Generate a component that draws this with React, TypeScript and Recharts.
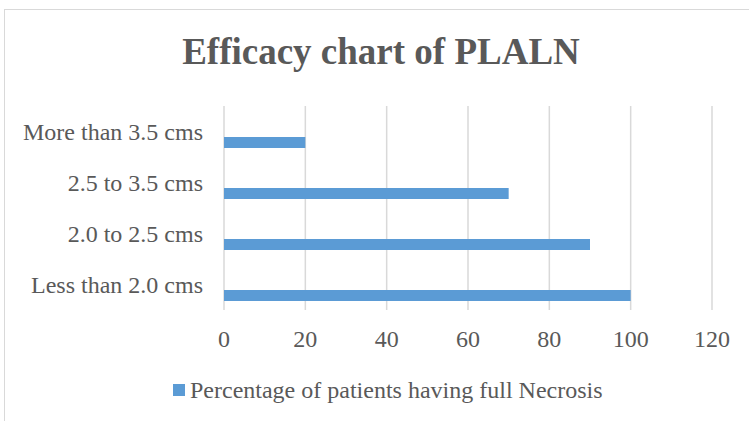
import { BarChart, Bar, XAxis, YAxis, CartesianGrid } from "recharts";

const CATEGORIES = ["More than 3.5 cms", "2.5 to 3.5 cms", "2.0 to 2.5 cms", "Less than 2.0 cms"];
const NECROSIS = [20, 70, 90, 100];
const X_TICKS = [0, 20, 40, 60, 80, 100, 120];
const SERIES_NAME = "Percentage of patients having full Necrosis";

const TEXT = "#595959";
const FONT = "'Liberation Serif', 'Times New Roman', serif";

const data = CATEGORIES.map((c, i) => ({ category: c, value: NECROSIS[i], blank: null }));

export default function App() {
  return (
    <div style={{ position: "absolute", left: 0, top: 0, width: 749, height: 421, overflow: "hidden", background: "#fff" }}>
      <div style={{ position: "absolute", left: 4, top: 9, width: 900, height: 600, border: "1.5px solid #D9D9D9" }} />
      <div style={{
        position: "absolute", left: 381, top: 33, transform: "translateX(-50%)", whiteSpace: "nowrap",
        fontFamily: FONT, fontWeight: "bold", fontSize: 37, lineHeight: "37px", color: TEXT,
      }}>
        Efficacy chart of PLALN
      </div>
      <BarChart
        width={749}
        height={421}
        data={data}
        layout="vertical"
        margin={{ top: 106, right: 37, left: 0, bottom: 81 }}
        barSize={11}
        barGap={10}
        style={{ position: "absolute", left: 0, top: 0 }}
      >
        <CartesianGrid horizontal={false} stroke="#D9D9D9" strokeWidth={1.5} />
        <XAxis
          type="number"
          domain={[0, 120]}
          ticks={X_TICKS}
          axisLine={false}
          tickLine={false}
          tickSize={0}
          tickMargin={20}
          height={30}
          tick={{ fill: TEXT, fontSize: 24, fontFamily: FONT }}
        />
        <YAxis
          type="category"
          dataKey="category"
          width={224}
          axisLine={false}
          tickLine={false}
          tickSize={0}
          tickMargin={21}
          tick={{ fill: TEXT, fontSize: 24, fontFamily: FONT }}
        />
        <Bar dataKey="blank" fill="none" legendType="none" isAnimationActive={false} />
        <Bar dataKey="value" name={SERIES_NAME} fill="#5B9BD5" isAnimationActive={false} />
      </BarChart>
      <div style={{
        position: "absolute", left: 173, top: 376, display: "flex", alignItems: "center",
        fontFamily: FONT, fontSize: 24, lineHeight: "28px", color: TEXT, whiteSpace: "nowrap",
      }}>
        <span style={{ display: "inline-block", width: 12, height: 12, background: "#5B9BD5", marginRight: 5 }} />
        {SERIES_NAME}
      </div>
    </div>
  );
}
